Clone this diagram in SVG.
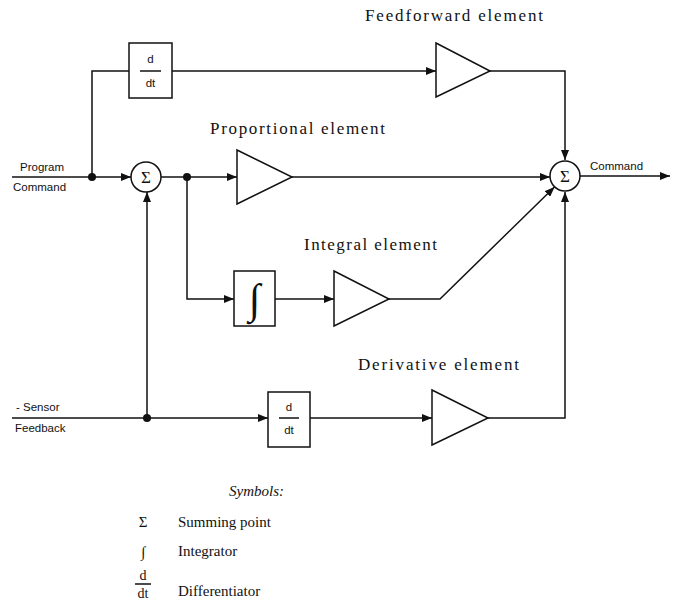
<svg xmlns="http://www.w3.org/2000/svg" width="674" height="615" viewBox="0 0 674 615">
  <style>
    .wire { fill: none; stroke: #111; stroke-width: 1.5; }
    .blk { fill: #fff; stroke: #111; stroke-width: 1.5; }
    .amp { fill: #fff; stroke: #111; stroke-width: 1.5; stroke-linejoin: miter; }
    .dot { fill: #111; }
    .title { font-family: "Liberation Serif", "DejaVu Serif", serif; font-size: 17px; fill: #111; }
    .small { font-family: "Liberation Sans", "DejaVu Sans", sans-serif; font-size: 11.5px; fill: #111; }
    .sym { font-family: "Liberation Serif", "DejaVu Serif", serif; fill: #111; }
    .legend { font-family: "Liberation Serif", "DejaVu Serif", serif; font-size: 15px; fill: #111; }
  </style>
  <defs>
    <marker id="arrow" viewBox="0 0 10 8" refX="10" refY="4" markerWidth="10" markerHeight="8" markerUnits="userSpaceOnUse" orient="auto">
      <path d="M0,0 L10,4 L0,8 Z" fill="#111"/>
    </marker>
  </defs>
  <rect width="674" height="615" fill="#fff"/>

  <!-- signal lines -->
  <g id="connectors">
    <path class="wire" d="M12,177 H131" marker-end="url(#arrow)"/>
    <path class="wire" d="M92,177 V71 H129"/>
    <path class="wire" d="M172,71 H436" marker-end="url(#arrow)"/>
    <path class="wire" d="M490,71 H565 V160" marker-end="url(#arrow)"/>
    <path class="wire" d="M161,177 H237" marker-end="url(#arrow)"/>
    <path class="wire" d="M292,177 H550" marker-end="url(#arrow)"/>
    <path class="wire" d="M187,177 V299 H234" marker-end="url(#arrow)"/>
    <path class="wire" d="M275,299 H334" marker-end="url(#arrow)"/>
    <path class="wire" d="M389,299 H440 L554.5,187" marker-end="url(#arrow)"/>
    <path class="wire" d="M12,418 H268" marker-end="url(#arrow)"/>
    <path class="wire" d="M147,418 V192" marker-end="url(#arrow)"/>
    <path class="wire" d="M310,418 H432" marker-end="url(#arrow)"/>
    <path class="wire" d="M488,418 H565 V192" marker-end="url(#arrow)"/>
    <path class="wire" d="M580,176 H670" marker-end="url(#arrow)"/>
    <circle class="dot" cx="92" cy="177" r="4"/>
    <circle class="dot" cx="187" cy="177" r="4"/>
    <circle class="dot" cx="147" cy="418" r="4"/>
  </g>

  <g id="input-labels">
    <text class="small" x="20" y="171">Program</text>
    <text class="small" x="13" y="191">Command</text>
    <text class="small" x="16" y="411">- Sensor</text>
    <text class="small" x="15" y="432">Feedback</text>
  </g>

  <g id="sum-in">
    <circle class="blk" cx="146" cy="177" r="15"/>
    <text class="sym" x="146" y="183" font-size="17" text-anchor="middle">Σ</text>
  </g>

  <g id="ff-diff">
    <rect class="blk" x="129" y="43" width="43" height="55"/>
    <text class="small" x="150.5" y="63" text-anchor="middle">d</text>
    <line class="wire" x1="140" y1="71" x2="161" y2="71"/>
    <text class="small" x="150.5" y="87" text-anchor="middle">dt</text>
  </g>

  <g id="ff-gain">
    <path class="amp" d="M436,43 L490,71 L436,97 Z"/>
    <text class="title" x="365" y="21" textLength="178" lengthAdjust="spacing">Feedforward element</text>
  </g>

  <g id="p-gain">
    <path class="amp" d="M237,150 L292,177 L237,204 Z"/>
    <text class="title" x="210" y="134" textLength="175" lengthAdjust="spacing">Proportional element</text>
  </g>

  <g id="integrator">
    <rect class="blk" x="234" y="271" width="41" height="55"/>
    <text class="sym" x="254.5" y="313" font-size="42" text-anchor="middle">∫</text>
  </g>

  <g id="i-gain">
    <path class="amp" d="M334,271 L389,299 L334,326 Z"/>
    <text class="title" x="304" y="250" textLength="133" lengthAdjust="spacing">Integral element</text>
  </g>

  <g id="d-diff">
    <rect class="blk" x="268" y="392" width="42" height="55"/>
    <text class="small" x="289" y="411" text-anchor="middle">d</text>
    <line class="wire" x1="279" y1="418" x2="299" y2="418"/>
    <text class="small" x="289" y="434" text-anchor="middle">dt</text>
  </g>

  <g id="d-gain">
    <path class="amp" d="M432,390 L488,418 L432,445 Z"/>
    <text class="title" x="358" y="370" textLength="161" lengthAdjust="spacing">Derivative element</text>
  </g>

  <g id="sum-out">
    <circle class="blk" cx="565" cy="176" r="15"/>
    <text class="sym" x="565" y="182" font-size="17" text-anchor="middle">Σ</text>
    <text class="small" x="590" y="170">Command</text>
  </g>

  <!-- key to the symbols -->
  <g id="legend">
    <text class="legend" x="229" y="496" font-style="italic">Symbols:</text>
    <text class="sym" x="143" y="527" font-size="15" text-anchor="middle">Σ</text>
    <text class="legend" x="178" y="527">Summing point</text>
    <text class="sym" x="143" y="557" font-size="15" text-anchor="middle">∫</text>
    <text class="legend" x="178" y="556">Integrator</text>
    <text class="sym" x="143" y="580" font-size="14" text-anchor="middle">d</text>
    <line class="wire" x1="135" y1="584" x2="151" y2="584" stroke-width="1"/>
    <text class="sym" x="143" y="598" font-size="14" text-anchor="middle">dt</text>
    <text class="legend" x="178" y="596">Differentiator</text>
  </g>
</svg>
